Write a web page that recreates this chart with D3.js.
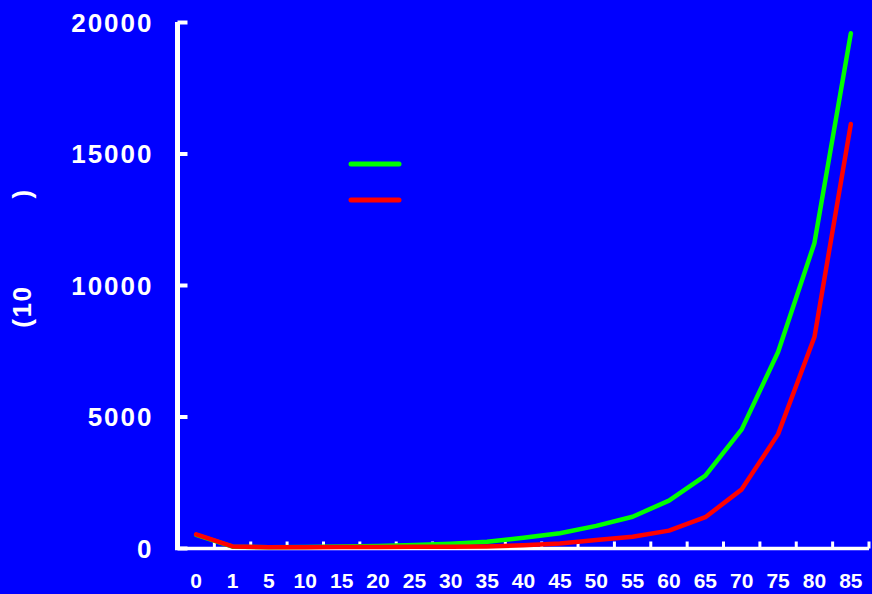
<!DOCTYPE html>
<html>
<head>
<meta charset="utf-8">
<script src="https://cdn.jsdelivr.net/npm/d3@7"></script>
<style>
  html, body { margin: 0; padding: 0; background: #0000FF; }
  svg { display: block; }
  text { font-family: "Liberation Sans", Arial, sans-serif; font-weight: bold; fill: #ffffff; }
</style>
</head>
<body>
<svg id="chart" width="872" height="594"></svg>
<script>
const ages = ["0","1","5","10","15","20","25","30","35","40","45","50","55","60","65","70","75","80","85"];
const greenValues = [500, 50, 30, 40, 60, 80, 110, 165, 240, 390, 560, 840, 1190, 1800, 2750, 4510, 7450, 11600, 19570];
const redValues   = [520, 60, 30, 30, 35, 40, 45, 50, 60, 100, 170, 300, 430, 660, 1170, 2230, 4330, 8020, 16120];
const yTicks = [0, 5000, 10000, 15000, 20000];
const yLabel = "(10          )";

const svg = d3.select("#chart");
svg.append("rect").attr("width", 872).attr("height", 594).attr("fill", "#0000FF");

const x = d3.scaleBand().domain(ages).range([178, 869]).paddingInner(0).paddingOuter(0);
const y = d3.scaleLinear().domain([0, 20000]).range([548, 22]);

// Y axis
const yAxis = svg.append("g").attr("transform", "translate(177.5,0)")
  .call(d3.axisLeft(y).tickValues(yTicks).tickSize(-10).tickPadding(24).tickFormat(d3.format("d")));
yAxis.select(".domain").attr("stroke", "#fff").attr("stroke-width", 5).attr("d", `M0,${y(20000)}V${y(0)}`);
yAxis.selectAll(".tick line").attr("stroke", "#fff").attr("stroke-width", 4);
yAxis.selectAll(".tick text").attr("fill", "#fff").style("font-size", "26px")
  .style("font-weight", "bold").style("letter-spacing", "2px").style("font-family", "'Liberation Sans', Arial, sans-serif")
  .attr("dy", "0.36em");

// X axis (labels at band centres)
const xAxis = svg.append("g").attr("transform", "translate(0,548.5)")
  .call(d3.axisBottom(x).tickSize(0));
xAxis.select(".domain").attr("stroke", "#fff").attr("stroke-width", 3.5).attr("d", "M175,0H869");
xAxis.selectAll(".tick text").attr("fill", "#fff").attr("y", 39.5).attr("dy", 0).style("font-size", "21px")
  .style("font-weight", "bold").style("font-family", "'Liberation Sans', Arial, sans-serif");
// boundary ticks pointing up
const bounds = ages.slice(1).map(a => x(a)).concat([x(ages[ages.length - 1]) + x.bandwidth()]);
xAxis.selectAll(".bt").data(bounds).enter().append("line")
  .attr("x1", d => d).attr("x2", d => d).attr("y1", 0).attr("y2", -7)
  .attr("stroke", "#fff").attr("stroke-width", 3);

// Lines
const cx = a => x(a) + x.bandwidth() / 2;
const line = d3.line().x((d, i) => cx(ages[i])).y(d => y(d));
svg.append("path").datum(greenValues).attr("d", line).attr("fill", "none")
  .attr("stroke", "#00FF00").attr("stroke-width", 4.5).attr("stroke-linejoin", "round").attr("stroke-linecap", "round");
svg.append("path").datum(redValues).attr("d", line).attr("fill", "none")
  .attr("stroke", "#FF0000").attr("stroke-width", 4.5).attr("stroke-linejoin", "round").attr("stroke-linecap", "round");

// Legend (labels not rendered in reference)
svg.append("line").attr("x1", 351).attr("x2", 399).attr("y1", 164).attr("y2", 164)
  .attr("stroke", "#00FF00").attr("stroke-width", 5).attr("stroke-linecap", "round");
svg.append("line").attr("x1", 351).attr("x2", 399).attr("y1", 200).attr("y2", 200)
  .attr("stroke", "#FF0000").attr("stroke-width", 5).attr("stroke-linecap", "round");

// Y label
svg.append("text").attr("transform", "translate(30.5,258) rotate(-90)")
  .attr("text-anchor", "middle").style("font-size", "26px").style("letter-spacing", "1.5px")
  .style("white-space", "pre").text(yLabel);
</script>
</body>
</html>
